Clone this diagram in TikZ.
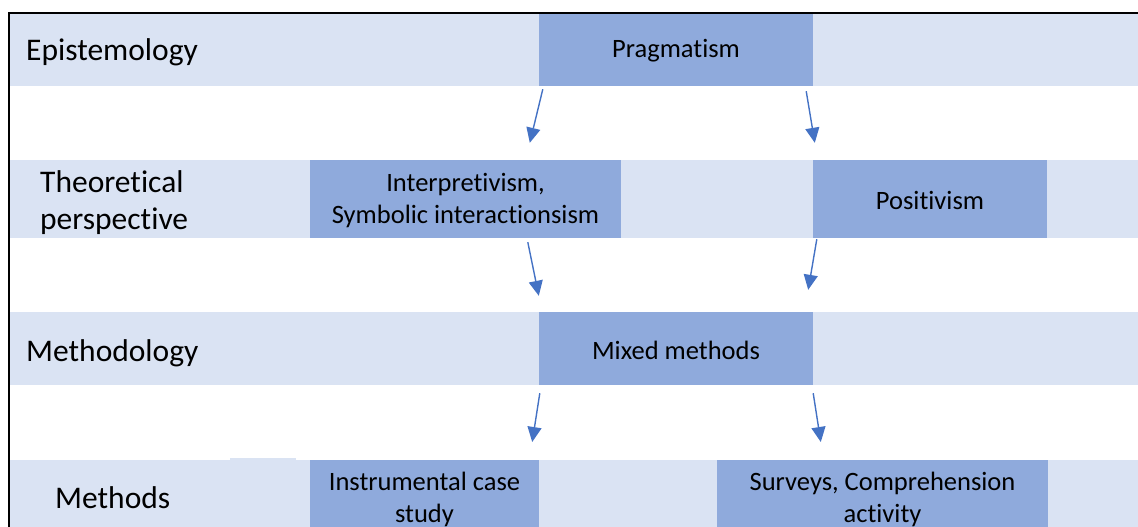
\documentclass[tikz,border=0pt]{standalone}
\usepackage{fontspec}
\setmainfont[Ligatures={NoCommon,NoRequired,NoContextual}]{Carlito}
\usetikzlibrary{arrows.meta,calc}
\definecolor{bandlight}{HTML}{DAE3F3}
\definecolor{boxdark}{HTML}{8FAADC}
\definecolor{arrowblue}{HTML}{4472C4}
\tikzset{
  band/.style={fill=bandlight,draw=none},
  darkbox/.style={fill=boxdark,draw=none,inner sep=0pt},
  boxtext/.style={inner sep=0pt,align=center,
    font=\fontsize{26.5}{32}\selectfont},
  rowlabel/.style={anchor=west,inner sep=0pt,align=left,
    font=\fontsize{31.5}{37}\selectfont},
  flow/.style={draw=arrowblue,line width=1.4pt,-{Triangle[length=15pt,width=14pt]}}
}
\begin{document}
\begin{tikzpicture}[x=1pt,y=-1pt]
\useasboundingbox (0,0) rectangle (1138,527);
% bands
\fill[band] (10,14) rectangle (1138,86);
\fill[band] (10,160) rectangle (1138,238);
\fill[band] (10,312) rectangle (1138,385);
\fill[band] (10,460) rectangle (1138,527);
\fill[band] (230,458) rectangle (296,460);
% dark boxes
\node[darkbox,minimum width=274pt,minimum height=72pt] (prag) at (676,50) {};
\node[darkbox,minimum width=311pt,minimum height=78pt] (interp) at (465.5,199) {};
\node[darkbox,minimum width=234pt,minimum height=78pt] (posit) at (930,199) {};
\node[darkbox,minimum width=274pt,minimum height=73pt] (mixed) at (676,348.5) {};
\node[darkbox,minimum width=229pt,minimum height=67pt,anchor=north] (instr) at (424.5,460) {};
\node[darkbox,minimum width=331pt,minimum height=67pt,anchor=north] (surv) at (882.5,460) {};
% box texts
\node[boxtext] (pragt) at ($(prag.center)+(0,1)$) {Pragmatism};
\node[boxtext] (interpt) at ($(interp.center)+(0,2)$) {Interpretivism,\\Symbolic interactionsism};
\node[boxtext] (positt) at ($(posit.center)+(0,1)$) {Positivism};
\node[boxtext] (mixedt) at ($(mixed.center)+(0,1.5)$) {Mixed methods};
\node[boxtext] (instrt) at ($(instr.north)+(0,39)$) {Instrumental case\\study};
\node[boxtext] (survt) at ($(surv.north)+(0,39)$) {Surveys, Comprehension\\activity};
% row labels
\node[rowlabel] (epi) at (26,52) {Epistemology};
\node[rowlabel] (theo) at (40,203) {Theoretical\\perspective};
\node[rowlabel] (meth) at (26,353) {Methodology};
\node[rowlabel] (mths) at (55,497.5) {Methods};
% frame
\draw[line width=2pt] (8,13) -- (1138,13);
\draw[line width=2pt] (9,13) -- (9,527);
% arrows
\draw[flow] ($(prag.south west)+(4,3)$) -- ($(interp.north west)+(220,-17)$);
\draw[flow] ($(prag.south east)+(-7,5)$) -- ($(posit.north west)+(2,-17)$);
\draw[flow] ($(interp.south west)+(218,4)$) -- ($(mixed.north west)+(0,-16)$);
\draw[flow] ($(posit.south west)+(4,1)$) -- ($(mixed.north east)+(-5,-22)$);
\draw[flow] ($(mixed.south west)+(1,8)$) -- ($(instr.north east)+(-7,-18)$);
\draw[flow] ($(mixed.south east)+(0,8)$) -- ($(surv.north west)+(104,-18)$);
\end{tikzpicture}
\end{document}
